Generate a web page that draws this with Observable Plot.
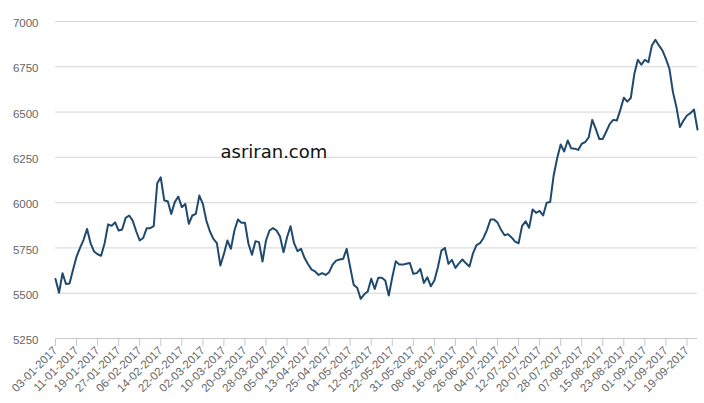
<!DOCTYPE html>
<html><head><meta charset="utf-8">
<script src="https://cdn.jsdelivr.net/npm/d3@7"></script>
<script src="https://cdn.jsdelivr.net/npm/@observablehq/plot@0.6"></script>
<style>body{margin:0;background:#fff}</style>
</head><body><div id="chart"></div>
<script>
const values = [
5578,5502,5610,5551,5553,5629,5702,5750,5795,5855,
5776,5730,5715,5707,5776,5880,5872,5891,5846,5852,
5916,5929,5901,5842,5791,5805,5859,5859,5870,6107,
6140,6012,6008,5938,6003,6034,5975,5993,5883,5929,
5938,6039,5993,5901,5842,5800,5776,5653,5717,5791,
5745,5846,5907,5889,5889,5773,5712,5787,5782,5675,
5791,5846,5859,5846,5813,5726,5809,5870,5776,5732,
5745,5694,5660,5630,5620,5601,5611,5601,5616,5658,
5680,5686,5690,5745,5643,5546,5530,5469,5494,5510,
5580,5524,5585,5585,5570,5487,5588,5677,5658,5658,
5663,5667,5607,5611,5634,5557,5588,5538,5570,5643,
5735,5750,5662,5684,5640,5665,5686,5665,5647,5720,
5765,5776,5805,5850,5907,5907,5890,5850,5820,5826,
5808,5785,5776,5872,5897,5861,5962,5944,5955,5929,
6000,6003,6150,6245,6321,6282,6343,6300,6298,6291,
6325,6334,6361,6457,6407,6352,6352,6393,6435,6457,
6453,6512,6579,6558,6579,6711,6789,6761,6789,6775,
6868,6899,6868,6840,6794,6739,6610,6527,6417,6453,
6481,6494,6514,6404
];
const tickLabels = [
"03-01-2017","11-01-2017","19-01-2017","27-01-2017","06-02-2017","14-02-2017",
"22-02-2017","02-03-2017","10-03-2017","20-03-2017","28-03-2017","05-04-2017",
"13-04-2017","25-04-2017","04-05-2017","12-05-2017","22-05-2017","31-05-2017",
"08-06-2017","16-06-2017","26-06-2017","04-07-2017","12-07-2017","20-07-2017",
"28-07-2017","07-08-2017","15-08-2017","23-08-2017","01-09-2017","11-09-2017",
"19-09-2017"
];
const tickStep = 6;
const yTicks = [5250,5500,5750,6000,6250,6500,6750,7000];
const watermark = ["asriran.com"];

const data = values.map((v, i) => ({i, v}));
const tickIdx = tickLabels.map((_, k) => k * tickStep);

const chart = Plot.plot({
  width: 704, height: 403,
  marginLeft: 55, marginRight: 7, marginTop: 21, marginBottom: 65,
  style: {fontFamily: "'Liberation Sans', Arial, sans-serif", fontSize: "11.5px", color: "#666", background: "#fff"},
  x: {domain: [0, values.length - 1], axis: null, label: null},
  y: {domain: [5250, 7000], axis: null, label: null},
  marks: [
    Plot.gridY(yTicks.slice(1), {stroke: "#d6d6d6", strokeOpacity: 1}),
    Plot.ruleY([5250], {stroke: "#c8c8c8"}),
    Plot.axisY(yTicks, {tickSize: 0, tickPadding: 17, dy: 2, fill: "#666", fontSize: 11.5, label: null, tickFormat: d => String(d)}),
    Plot.axisX(tickIdx, {tickFormat: d => tickLabels[d / tickStep], tickRotate: -45, tickSize: 8, tickPadding: 2, stroke: "#c8c8c8", fill: "#666", fontSize: 11.5, label: null}),
    Plot.lineY(data, {x: "i", y: "v", stroke: "#1f4a6e", strokeWidth: 2}),
    Plot.text(watermark, {text: d => d, frameAnchor: "top-left", dx: 165, dy: 124, textAnchor: "start", fontSize: 18, fill: "#111", fontFamily: "'DejaVu Sans', Verdana, sans-serif"})
  ]
});
document.getElementById("chart").appendChild(chart);
</script>
</body></html>
